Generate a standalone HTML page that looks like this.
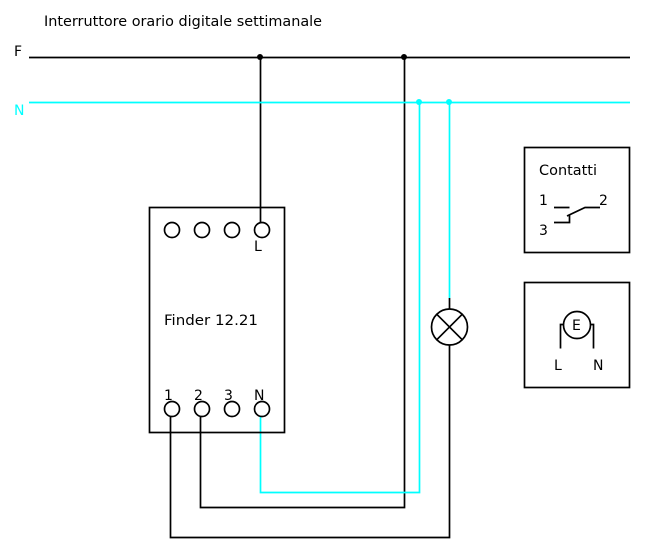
<!DOCTYPE html>
<html><head><meta charset="utf-8"><style>
html,body{margin:0;padding:0;background:#fff}
svg{display:block}
text{font-family:"DejaVu Sans",sans-serif;font-size:14px;fill:#000}
</style></head><body>
<svg width="646" height="554" viewBox="0 0 646 554" xmlns="http://www.w3.org/2000/svg">
<g fill="none" stroke="#000" stroke-width="1.7">
<path d="M29 57.5H630"/>
<path d="M260.500 57.500V222"/>
<path d="M404.500 57.500V507.500H200.500V417"/>
<path d="M449.500 345V537.500H170.500V417"/>
<path d="M449.500 298V310"/>
</g>
<g fill="none" stroke="#0ff" stroke-width="1.7">
<path d="M29 102.500H630"/>
<path d="M419.500 102.500V492.500H260.500V417"/>
<path d="M449.500 102.500V298"/>
</g>
<circle cx="260" cy="57" r="3" fill="#000"/>
<circle cx="404" cy="57" r="3" fill="#000"/>
<circle cx="419" cy="102" r="3" fill="#0ff"/>
<circle cx="449" cy="102" r="3" fill="#0ff"/>
<g fill="#fff" stroke="#000" stroke-width="1.7">
<rect x="149.500" y="207.500" width="135" height="225" fill="none"/>
<rect x="524.500" y="147.500" width="105" height="105"/>
<rect x="524.500" y="282.500" width="105" height="105"/>
<circle cx="172" cy="230" r="7.500"/>
<circle cx="202" cy="230" r="7.500"/>
<circle cx="232" cy="230" r="7.500"/>
<circle cx="262" cy="230" r="7.500"/>
<circle cx="172" cy="409" r="7.500"/>
<circle cx="202" cy="409" r="7.500"/>
<circle cx="232" cy="409" r="7.500"/>
<circle cx="262" cy="409" r="7.500"/>
<circle cx="449.500" cy="327" r="18"/>
<path d="M436.800 314.300L462.200 339.700M462.200 314.300L436.800 339.700" fill="none"/>
<path d="M554 207.500H569.500M554 222.500H569.500V215M567 216L585 207.500H600" fill="none"/>
<path d="M560.500 348.500V324.500H565M593.500 348.500V324.500H589" fill="none"/>
<circle cx="577" cy="325" r="13.500"/>
</g>
<text x="44" y="26" textLength="278" lengthAdjust="spacingAndGlyphs">Interruttore orario digitale settimanale</text>
<text x="14" y="56">F</text>
<text x="14" y="115" style="fill:#0ff">N</text>
<text x="164" y="325" textLength="94" lengthAdjust="spacingAndGlyphs">Finder 12.21</text>
<text x="254" y="251">L</text>
<text x="164" y="400">1</text>
<text x="194" y="400">2</text>
<text x="224" y="400">3</text>
<text x="254" y="400">N</text>
<text x="539" y="175" textLength="58" lengthAdjust="spacingAndGlyphs">Contatti</text>
<text x="539" y="205">1</text>
<text x="599" y="205">2</text>
<text x="539" y="235">3</text>
<text x="572" y="330">E</text>
<text x="554" y="370">L</text>
<text x="593" y="370">N</text>
</svg>
</body></html>
